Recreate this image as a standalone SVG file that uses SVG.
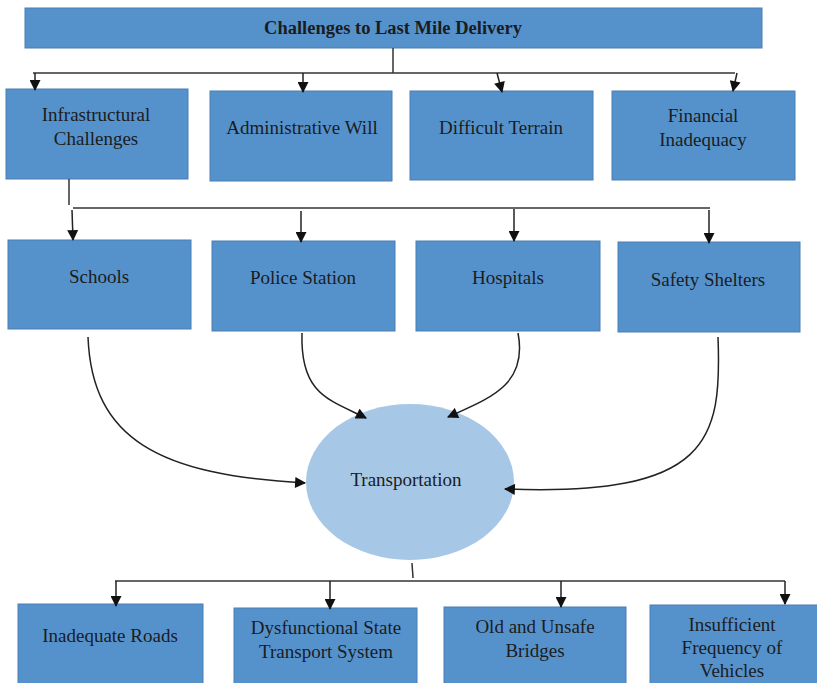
<svg xmlns="http://www.w3.org/2000/svg" width="817" height="683" viewBox="0 0 817 683">
  <defs>
    <marker id="arrow" viewBox="0 0 10 10" refX="9" refY="5" markerWidth="12" markerHeight="11" markerUnits="userSpaceOnUse" orient="auto">
      <path d="M0,0 L10,5 L0,10 Z" fill="#111"/>
    </marker>
    <style>
      .box { fill: #5592cc; stroke: #4a7fb3; stroke-width: 1; }
      .oval { fill: #a7c7e7; stroke: none; }
      .lbl { font-family: "Liberation Serif", "Times New Roman", serif; font-size: 19px; fill: #1c1c1c; text-anchor: middle; }
      .title { font-weight: bold; font-size: 18.5px; }
      .wire { fill: none; stroke: #333; stroke-width: 1.5; }
      .arr { fill: none; stroke: #222; stroke-width: 1.5; marker-end: url(#arrow); }
    </style>
  </defs>
  <rect width="817" height="683" fill="#ffffff"/>

  <g id="title">
    <rect class="box" x="25" y="8" width="737" height="40"/>
    <text class="lbl title" x="393" y="34">Challenges to Last Mile Delivery</text>
  </g>

  <g id="infrastructural">
    <rect class="box" x="6" y="89" width="182" height="90"/>
    <text class="lbl" x="96" y="121">Infrastructural</text>
    <text class="lbl" x="96" y="145">Challenges</text>
  </g>
  <g id="administrative">
    <rect class="box" x="210" y="91" width="182" height="90"/>
    <text class="lbl" x="302" y="134">Administrative Will</text>
  </g>
  <g id="terrain">
    <rect class="box" x="410" y="91" width="183" height="89"/>
    <text class="lbl" x="501" y="134">Difficult Terrain</text>
  </g>
  <g id="financial">
    <rect class="box" x="612" y="91" width="183" height="89"/>
    <text class="lbl" x="703" y="122">Financial</text>
    <text class="lbl" x="703" y="146">Inadequacy</text>
  </g>

  <g id="schools">
    <rect class="box" x="8" y="240" width="183" height="89"/>
    <text class="lbl" x="99" y="283">Schools</text>
  </g>
  <g id="police">
    <rect class="box" x="212" y="241" width="183" height="90"/>
    <text class="lbl" x="303" y="284">Police Station</text>
  </g>
  <g id="hospitals">
    <rect class="box" x="416" y="241" width="184" height="90"/>
    <text class="lbl" x="508" y="284">Hospitals</text>
  </g>
  <g id="shelters">
    <rect class="box" x="618" y="242" width="182" height="90"/>
    <text class="lbl" x="708" y="286">Safety Shelters</text>
  </g>

  <g id="transportation">
    <ellipse class="oval" cx="410" cy="482" rx="104" ry="78"/>
    <text class="lbl" x="406" y="486">Transportation</text>
  </g>

  <g id="roads">
    <rect class="box" x="18" y="604" width="185" height="85"/>
    <text class="lbl" x="110" y="642">Inadequate Roads</text>
  </g>
  <g id="state-transport">
    <rect class="box" x="234" y="608" width="183" height="85"/>
    <text class="lbl" x="326" y="634">Dysfunctional State</text>
    <text class="lbl" x="326" y="658">Transport System</text>
  </g>
  <g id="bridges">
    <rect class="box" x="444" y="607" width="182" height="85"/>
    <text class="lbl" x="535" y="633">Old and Unsafe</text>
    <text class="lbl" x="535" y="657">Bridges</text>
  </g>
  <g id="vehicles">
    <rect class="box" x="650" y="605" width="175" height="85"/>
    <text class="lbl" x="732" y="631">Insufficient</text>
    <text class="lbl" x="732" y="654">Frequency of</text>
    <text class="lbl" x="732" y="677">Vehicles</text>
  </g>

  <g id="connectors">
    <!-- title to first row -->
    <path class="wire" d="M393,48 V73"/>
    <path class="wire" d="M33,73 H735"/>
    <path class="arr" d="M35,73 V90"/>
    <path class="arr" d="M303,73 V92"/>
    <path class="arr" d="M497,73 L502,92"/>
    <path class="arr" d="M737,73 L733,91"/>
    <!-- infrastructure to facilities -->
    <path class="wire" d="M69,179 V205"/>
    <path class="wire" d="M73,208 H710"/>
    <path class="arr" d="M72,210 L73,240"/>
    <path class="arr" d="M301,211 V242"/>
    <path class="arr" d="M514,209 V241"/>
    <path class="arr" d="M709,210 V243"/>
    <!-- facilities to transportation -->
    <path class="arr" d="M88,337 C92,440 160,475 305,483"/>
    <path class="arr" d="M302,333 C300,395 330,400 366,418"/>
    <path class="arr" d="M518,333 C528,385 490,398 448,417"/>
    <path class="arr" d="M718,337 C722,440 710,497 505,489"/>
    <!-- transportation to issues -->
    <path class="wire" d="M412,563 L413,578"/>
    <path class="wire" d="M115,581 H785"/>
    <path class="arr" d="M116,581 V606"/>
    <path class="arr" d="M330,581 V609"/>
    <path class="arr" d="M561,581 V607"/>
    <path class="arr" d="M785,581 V604"/>
  </g>
</svg>
